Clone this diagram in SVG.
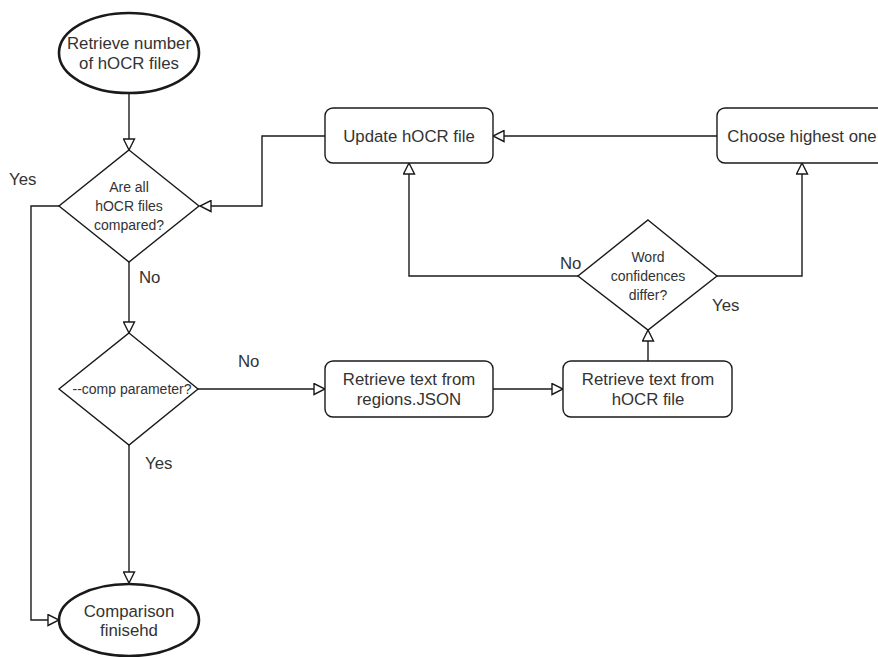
<svg xmlns="http://www.w3.org/2000/svg" width="878" height="657" viewBox="0 0 878 657">
  <style>
    .shape { fill: #ffffff; stroke: #1a1a1a; stroke-width: 1.4; }
    .term { fill: #ffffff; stroke: #1a1a1a; stroke-width: 2.6; }
    .edge { fill: none; stroke: #1a1a1a; stroke-width: 1.4; marker-end: url(#open); }
    text { font-family: "Liberation Sans", Arial, sans-serif; fill: #333333; text-anchor: middle; dominant-baseline: central; }
    .big { font-size: 16.8px; }
    .small { font-size: 14px; }
    .lbl { font-size: 16.8px; text-anchor: start; }
  </style>
  <defs>
    <marker id="open" markerUnits="userSpaceOnUse" markerWidth="13" markerHeight="13" viewBox="-1 -1 13 13" refX="11" refY="5.5" orient="auto">
      <path d="M0,0 L11,5.5 L0,11 Z" fill="#ffffff" stroke="#1a1a1a" stroke-width="1.4"/>
    </marker>
  </defs>
  <rect width="878" height="657" fill="#ffffff"/>

  <!-- connectors -->
  <g id="connectors">
    <path class="edge" d="M129,93 L129,150"/>
    <path class="edge" d="M59,206 L31,206 L31,620 L59,620"/>
    <path class="edge" d="M129,262 L129,333"/>
    <path class="edge" d="M129,445 L129,583"/>
    <path class="edge" d="M198,389 L325,389"/>
    <path class="edge" d="M493,389 L563,389"/>
    <path class="edge" d="M648,361 L648,330"/>
    <path class="edge" d="M578,276 L409,276 L409,163"/>
    <path class="edge" d="M717,276 L802,276 L802,163"/>
    <path class="edge" d="M717,136 L493,136"/>
    <path class="edge" d="M325,136 L262,136 L262,206 L200,206"/>
  </g>

  <!-- edge labels -->
  <g id="labels">
    <text class="lbl" x="9" y="179">Yes</text>
    <text class="lbl" x="139" y="277">No</text>
    <text class="lbl" x="238" y="361">No</text>
    <text class="lbl" x="145" y="463">Yes</text>
    <text class="lbl" x="560" y="263">No</text>
    <text class="lbl" x="712" y="305">Yes</text>
  </g>

  <g id="start">
    <ellipse class="term" cx="129" cy="53" rx="70" ry="40"/>
    <text class="big" x="129" y="43">Retrieve number</text>
    <text class="big" x="129" y="63">of hOCR files</text>
  </g>

  <g id="all-compared">
    <polygon class="shape" points="129,150 199,206 129,262 59,206"/>
    <text class="small" x="129" y="187">Are all</text>
    <text class="small" x="129" y="206">hOCR files</text>
    <text class="small" x="129" y="225">compared?</text>
  </g>

  <g id="comp-param">
    <polygon class="shape" points="129,333 198,389 129,445 59,389"/>
    <text class="small" x="132" y="389">--comp parameter?</text>
  </g>

  <g id="end">
    <ellipse class="term" cx="129" cy="620" rx="70" ry="36"/>
    <text class="big" x="129" y="611">Comparison</text>
    <text class="big" x="129" y="630">finisehd</text>
  </g>

  <g id="from-json">
    <rect class="shape" x="325" y="361" width="168" height="56" rx="8"/>
    <text class="big" x="409" y="379">Retrieve text from</text>
    <text class="big" x="409" y="399">regions.JSON</text>
  </g>

  <g id="from-hocr">
    <rect class="shape" x="563" y="361" width="169" height="56" rx="8"/>
    <text class="big" x="648" y="379">Retrieve text from</text>
    <text class="big" x="648" y="399">hOCR file</text>
  </g>

  <g id="confidences">
    <polygon class="shape" points="648,220 717,276 648,330 578,276"/>
    <text class="small" x="648" y="257">Word</text>
    <text class="small" x="648" y="276">confidences</text>
    <text class="small" x="648" y="295">differ?</text>
  </g>

  <g id="update">
    <rect class="shape" x="325" y="108" width="168" height="55" rx="8"/>
    <text class="big" x="409" y="136">Update hOCR file</text>
  </g>

  <g id="choose">
    <rect class="shape" x="717" y="108" width="170" height="55" rx="8"/>
    <text class="big" x="802" y="136">Choose highest one</text>
  </g>
</svg>
